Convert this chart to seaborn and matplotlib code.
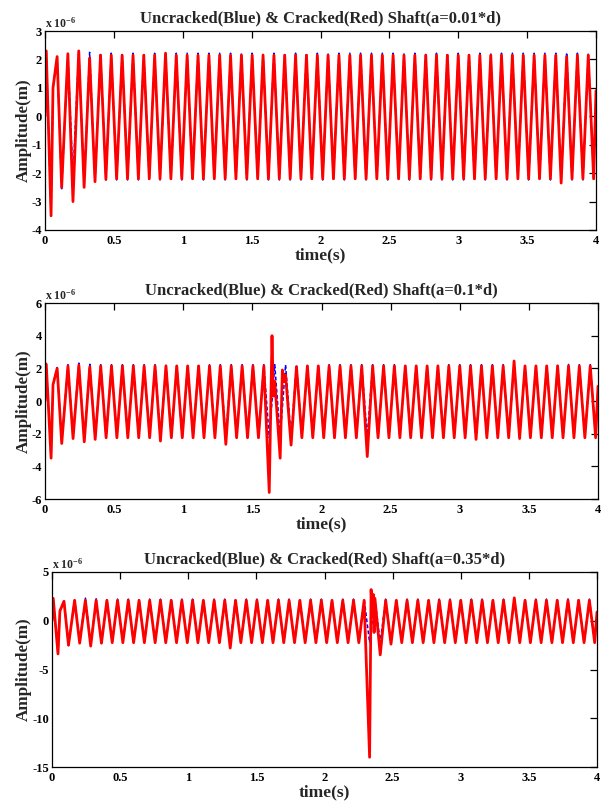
import numpy as np
import pandas as pd
import matplotlib
matplotlib.use("Agg")
import matplotlib.pyplot as plt
import seaborn as sns
from matplotlib.ticker import FuncFormatter, MultipleLocator

# ---------------- data (values in units of 1e-6 m) -------------
# times of the local maxima / minima of the response (s)
peak_t = [0.009, 0.088, 0.166, 0.245, 0.324, 0.403, 0.481, 0.560, 0.639, 0.717,
          0.796, 0.875, 0.953, 1.032, 1.111, 1.190, 1.268, 1.347, 1.426, 1.504,
          1.583, 1.662, 1.740, 1.819, 1.898, 1.977, 2.055, 2.134, 2.213, 2.291,
          2.370, 2.449, 2.527, 2.606, 2.685, 2.764, 2.842, 2.921, 3.000, 3.078,
          3.157, 3.236, 3.314, 3.393, 3.472, 3.551, 3.629, 3.708, 3.787, 3.865,
          3.944]
trough_t = [0.044, 0.121, 0.203, 0.284, 0.363, 0.442, 0.520, 0.599, 0.678, 0.757,
            0.835, 0.914, 0.993, 1.071, 1.150, 1.229, 1.308, 1.386, 1.465, 1.544,
            1.622, 1.701, 1.780, 1.858, 1.937, 2.016, 2.094, 2.173, 2.252, 2.331,
            2.409, 2.488, 2.567, 2.645, 2.724, 2.803, 2.882, 2.960, 3.039, 3.118,
            3.196, 3.275, 3.354, 3.433, 3.511, 3.590, 3.669, 3.747, 3.826, 3.905,
            3.983]

# uncracked shaft (blue)
blue_peak = [2.30, 2.05, 2.22, 2.32, 2.25, 2.22, 2.22, 2.22, 2.22, 2.22,
             2.22, 2.22, 2.22, 2.22, 2.22, 2.22, 2.22, 2.22, 2.22, 2.22,
             2.22, 2.22, 2.22, 2.22, 2.22, 2.22, 2.22, 2.22, 2.22, 2.22,
             2.22, 2.22, 2.22, 2.22, 2.22, 2.22, 2.22, 2.22, 2.22, 2.22,
             2.22, 2.22, 2.22, 2.22, 2.22, 2.22, 2.22, 2.22, 2.24, 2.22,
             2.22]
blue_trough = [-3.45, -2.55, -2.15, -2.40, -2.30, -2.24, -2.24, -2.24, -2.24, -2.24,
               -2.24, -2.24, -2.24, -2.24, -2.24, -2.24, -2.24, -2.24, -2.24, -2.24,
               -2.24, -2.24, -2.24, -2.24, -2.24, -2.24, -2.24, -2.24, -2.24, -2.24,
               -2.24, -2.24, -2.24, -2.24, -2.24, -2.24, -2.24, -2.24, -2.24, -2.24,
               -2.24, -2.24, -2.24, -2.24, -2.24, -2.24, -2.24, -2.24, -2.24, -2.24,
               -2.24]
blue_extra_t = [0.000, 0.058, 4.000]
blue_extra_v = [0.00, 1.00, 0.90]

# cracked shaft a = 0.01 d (red)
red1_peak = [2.30, 2.10, 2.20, 2.30, 2.05, 2.15, 2.15, 2.15, 2.15, 2.15,
             2.15, 2.22, 2.15, 2.15, 2.15, 2.15, 2.15, 2.15, 2.15, 2.15,
             2.15, 2.15, 2.15, 2.15, 2.15, 2.15, 2.15, 2.15, 2.15, 2.15,
             2.15, 2.15, 2.15, 2.15, 2.15, 2.15, 2.15, 2.15, 2.15, 2.15,
             2.15, 2.15, 2.15, 2.15, 2.15, 2.15, 2.15, 2.15, 2.10, 2.15,
             2.15]
red1_trough = [-3.50, -2.50, -3.00, -2.50, -2.30, -2.22, -2.20, -2.20, -2.20, -2.20,
               -2.20, -2.20, -2.20, -2.20, -2.20, -2.20, -2.20, -2.20, -2.20, -2.20,
               -2.20, -2.20, -2.20, -2.20, -2.20, -2.20, -2.20, -2.20, -2.20, -2.20,
               -2.20, -2.20, -2.20, -2.20, -2.20, -2.20, -2.20, -2.20, -2.20, -2.20,
               -2.20, -2.20, -2.20, -2.20, -2.20, -2.20, -2.20, -2.35, -2.20, -2.20,
               -2.20]
red1_extra_t = [0.000, 0.058, 4.000]
red1_extra_v = [0.00, 1.00, 0.90]

# cracked shaft a = 0.1 d (red)
red2_peak = [2.25, 2.00, 2.15, 2.20, 2.10, 2.15, 2.15, 2.15, 2.15, 2.15,
             2.15, 2.15, 2.15, 2.15, 2.15, 2.15, 2.15, 2.15, 2.15, 2.15,
             2.15, 1.20, 1.60, 2.10, 2.15, 2.15, 2.15, 2.15, 2.15, 2.15,
             2.15, 2.15, 2.15, 2.15, 2.15, 2.15, 2.15, 2.15, 2.15, 2.15,
             2.15, 2.15, 2.15, 2.45, 2.15, 2.15, 2.15, 2.15, 2.15, 2.15,
             2.15]
red2_trough = [-3.50, -2.60, -2.30, -2.50, -2.35, -2.25, -2.25, -2.25, -2.25, -2.25,
               -2.45, -2.25, -2.25, -2.25, -2.25, -2.25, -2.65, -2.25, -2.25, -2.25,
               -5.60, -3.50, -2.70, -2.25, -2.25, -2.25, -2.25, -2.25, -2.25, -3.40,
               -2.25, -2.25, -2.25, -2.25, -2.25, -2.25, -2.25, -2.25, -2.25, -2.35,
               -2.25, -2.25, -2.25, -2.30, -2.25, -2.25, -2.25, -2.25, -2.25, -2.25,
               -2.25]
red2_extra_t = [0.000, 0.058, 1.642, 1.652, 1.717, 1.728, 4.000]
red2_extra_v = [0.00, 1.00, 4.00, 0.30, 1.90, 1.20, 0.90]

# cracked shaft a = 0.35 d (red)
red3_peak = [2.30, 2.00, 2.10, 2.10, 2.10, 2.10, 2.10, 2.10, 2.10, 2.10,
             2.10, 2.10, 2.10, 2.10, 2.10, 2.10, 2.10, 2.10, 2.10, 2.10,
             2.10, 2.10, 2.10, 2.10, 2.10, 2.10, 2.10, 2.10, 2.10, 2.10,
             2.30, 2.10, 2.10, 2.10, 2.10, 2.10, 2.10, 2.10, 2.10, 2.10,
             2.10, 2.10, 2.10, 2.35, 2.10, 2.10, 2.10, 2.10, 2.10, 2.10,
             2.10]
red3_trough = [-3.40, -2.50, -2.30, -2.60, -2.30, -2.25, -2.25, -2.25, -2.25, -2.25,
               -2.25, -2.25, -2.25, -2.25, -2.25, -2.25, -2.80, -2.25, -2.25, -2.25,
               -2.25, -2.25, -2.25, -2.25, -2.25, -2.25, -2.25, -2.25, -2.25, -14.00,
               -3.50, -2.40, -2.25, -2.25, -2.25, -2.25, -2.25, -2.25, -2.25, -2.25,
               -2.25, -2.25, -2.25, -2.25, -2.25, -2.25, -2.25, -2.25, -2.25, -2.25,
               -2.25]
red3_extra_t = [0.000, 0.058, 2.342, 2.350, 2.358, 2.364, 4.000]
red3_extra_v = [0.00, 1.00, 3.20, 0.80, 2.70, -1.20, 0.90]

titles = ["Uncracked(Blue) & Cracked(Red) Shaft(a=0.01*d)",
          "Uncracked(Blue) & Cracked(Red) Shaft(a=0.1*d)",
          "Uncracked(Blue) & Cracked(Red) Shaft(a=0.35*d)"]
y_limits = [(-4, 3), (-6, 6), (-15, 5)]
y_steps = [1, 2, 5]
x_ticks = [0, 0.5, 1, 1.5, 2, 2.5, 3, 3.5, 4]


def series(peaks, troughs, et, ev):
    t = list(peak_t) + list(trough_t) + list(et)
    v = list(peaks) + list(troughs) + list(ev)
    return pd.DataFrame({"t": t, "v": v}).sort_values("t").reset_index(drop=True)


blue_df = series(blue_peak, blue_trough, blue_extra_t, blue_extra_v)
red_dfs = [series(red1_peak, red1_trough, red1_extra_t, red1_extra_v),
           series(red2_peak, red2_trough, red2_extra_t, red2_extra_v),
           series(red3_peak, red3_trough, red3_extra_t, red3_extra_v)]

# ---------------- styling -------------
sns.set_style("white")
plt.rcParams["font.family"] = ["Liberation Serif", "DejaVu Serif"]
plt.rcParams["font.weight"] = "bold"
plt.rcParams["axes.labelweight"] = "bold"
plt.rcParams["axes.titleweight"] = "bold"
plt.rcParams["axes.unicode_minus"] = False
plt.rcParams["mathtext.fontset"] = "custom"
plt.rcParams["mathtext.rm"] = "Liberation Serif:bold"
plt.rcParams["mathtext.it"] = "Liberation Serif:bold"
plt.rcParams["mathtext.bf"] = "Liberation Serif:bold"

fig = plt.figure(figsize=(6.04, 8.01), dpi=100)
W, H = 604.0, 801.0
boxes = [(45, 31, 596, 230), (45, 303, 598, 499), (52, 572, 597, 767)]

for i, (l, t, r, b) in enumerate(boxes):
    ax = fig.add_axes([l / W, 1 - b / H, (r - l) / W, (b - t) / H])
    sns.lineplot(data=blue_df, x="t", y="v", ax=ax, color="#0000ff",
                 linestyle=(0, (2.5, 1.5)), linewidth=1.1, sort=False,
                 estimator=None, legend=False)
    sns.lineplot(data=red_dfs[i], x="t", y="v", ax=ax, color="#ff0000",
                 linestyle="-", linewidth=2.0, sort=False,
                 estimator=None, legend=False)
    ax.set_xlim(0, 4)
    ax.set_ylim(*y_limits[i])
    ax.set_xticks(x_ticks)
    ax.yaxis.set_major_locator(MultipleLocator(y_steps[i]))
    fmt = FuncFormatter(lambda v, p: "%g" % v)
    ax.xaxis.set_major_formatter(fmt)
    ax.yaxis.set_major_formatter(fmt)
    ax.tick_params(direction="in", length=5, width=0.9, top=True, right=True,
                   labelsize=9, colors="black")
    ax.tick_params(axis="y", pad=2)
    ax.tick_params(axis="x", pad=3.5)
    for lab in ax.get_xticklabels() + ax.get_yticklabels():
        lab.set_fontweight("bold")
    for s in ax.spines.values():
        s.set_color("black")
        s.set_linewidth(0.9)
    ax.set_title(titles[i], fontsize=12, fontweight="bold", pad=6.5)
    ax.set_xlabel("time(s)", fontsize=12.5, fontweight="bold")
    ax.set_ylabel("Amplitude(m)", fontsize=12.3, fontweight="bold")
    wpx, hpx = r - l, b - t
    ax.yaxis.set_label_coords((32 - l) / wpx, 0.5)
    ax.xaxis.set_label_coords(0.5, -17.5 / hpx)
    ax.text(0.0, 1.004, r"x 10$^{-6}$", transform=ax.transAxes, ha="left",
            va="bottom", fontsize=8.5, fontweight="bold")

fig.savefig("out.png", dpi=100)
